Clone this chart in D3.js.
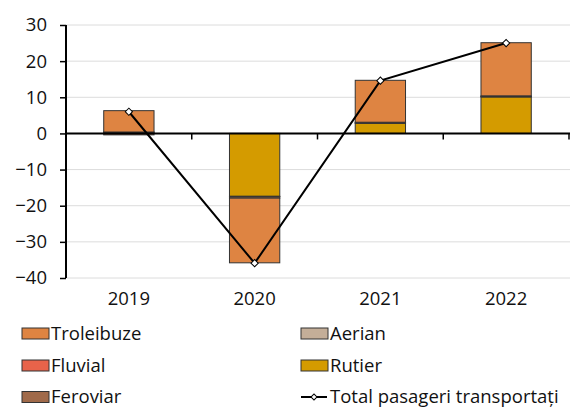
<!DOCTYPE html>
<html>
<head>
<meta charset="utf-8">
<script src="https://cdn.jsdelivr.net/npm/d3@7"></script>
<style>
    body { margin: 0; background: #fff; }
    svg { display: block; font-family: "Open Sans", sans-serif; }
    .tick text { fill: #111; }
</style>
</head>
<body>
<svg id="chart" width="570" height="413"></svg>
<script>
const categories = ["2019", "2020", "2021", "2022"];
const rutier = [0.3, -17.4, 2.8, 10.1];
const aerian = [0.1, -0.1, 0.1, 0.1];
const feroviar = [-0.4, -0.4, 0.2, 0.2];
const fluvial = [0, 0, 0, 0];
const troleibuze = [5.9, -17.9, 11.6, 14.7];
const totalPasageri = [6.0, -35.9, 14.6, 25.0];
const yTicks = [-40, -30, -20, -10, 0, 10, 20, 30];

const seriesInfo = [
    { key: "rutier", name: "Rutier", values: rutier, color: "#d49b00" },
    { key: "aerian", name: "Aerian", values: aerian, color: "#c4ae98" },
    { key: "feroviar", name: "Feroviar", values: feroviar, color: "#a06a4a" },
    { key: "fluvial", name: "Fluvial", values: fluvial, color: "#e8634a" },
    { key: "troleibuze", name: "Troleibuze", values: troleibuze, color: "#de8442" }
];
const colorOf = {};
seriesInfo.forEach(s => colorOf[s.key] = s.color);

const rows = categories.map((c, i) => {
    const r = { cat: c };
    seriesInfo.forEach(s => r[s.key] = s.values[i]);
    return r;
});

const svg = d3.select("#chart");
const fontSize = 18.5;

const x = d3.scaleBand().domain(categories).range([66, 569]).padding(0);
const y = d3.scaleLinear().domain([-40, 30]).range([278, 25]);
const barW = x.bandwidth() * 0.4;

// grid
svg.append("g").selectAll("line").data(yTicks).join("line")
    .attr("x1", 66).attr("x2", 570)
    .attr("y1", d => y(d)).attr("y2", d => y(d))
    .attr("stroke", "#dcdcdc").attr("stroke-width", 1);

// stacked bars
const stack = d3.stack().keys(seriesInfo.map(s => s.key)).offset(d3.stackOffsetDiverging);
const stacked = stack(rows);

svg.append("g").selectAll("g").data(stacked).join("g")
    .attr("fill", d => colorOf[d.key])
    .selectAll("rect").data(d => d.filter(p => p[1] !== p[0])).join("rect")
    .attr("x", d => x(d.data.cat) + (x.bandwidth() - barW) / 2)
    .attr("width", barW)
    .attr("y", d => y(Math.max(d[0], d[1])))
    .attr("height", d => Math.abs(y(d[0]) - y(d[1])))
    .attr("stroke", "#333").attr("stroke-width", 1);

// y axis
const gY = svg.append("g").attr("transform", "translate(66,0)")
    .call(d3.axisLeft(y).tickValues(yTicks).tickSize(6).tickPadding(13).tickFormat(d3.format("d")));
gY.select(".domain").attr("stroke", "#000").attr("stroke-width", 2).attr("d", `M0,${y(30)}V${y(-40)}`);
gY.selectAll(".tick line").attr("stroke", "#000").attr("stroke-width", 1.5);
gY.selectAll(".tick text").attr("font-size", fontSize).attr("font-family", "Open Sans");

// zero axis with boundary ticks
const gX = svg.append("g").attr("transform", `translate(0,${y(0)})`);
gX.append("line").attr("x1", 66).attr("x2", 570).attr("stroke", "#000").attr("stroke-width", 2);
gX.selectAll(".bt").data(categories).join("line").attr("class", "bt")
    .attr("x1", d => x(d) + x.bandwidth()).attr("x2", d => x(d) + x.bandwidth())
    .attr("y1", 0).attr("y2", 6).attr("stroke", "#000").attr("stroke-width", 1.5);

// category labels
const gL = svg.append("g").attr("transform", `translate(0,${y(-40)})`)
    .call(d3.axisBottom(x).tickSize(0).tickPadding(14));
gL.select(".domain").remove();
gL.selectAll(".tick text").attr("font-size", fontSize).attr("font-family", "Open Sans");

// total line
const line = d3.line().x((d, i) => x(categories[i]) + x.bandwidth() / 2).y(d => y(d));
svg.append("path").datum(totalPasageri).attr("d", line)
    .attr("fill", "none").attr("stroke", "#000").attr("stroke-width", 2);

const marker = d3.symbol().type(d3.symbolSquare).size(26);
svg.append("g").selectAll("path").data(totalPasageri).join("path")
    .attr("d", marker)
    .attr("transform", (d, i) => `translate(${x(categories[i]) + x.bandwidth() / 2},${y(d)}) rotate(45)`)
    .attr("fill", "#fff").attr("stroke", "#000").attr("stroke-width", 1);

// legend
const legendItems = [
    { name: "Troleibuze", key: "troleibuze", col: 0, row: 0 },
    { name: "Aerian", key: "aerian", col: 1, row: 0 },
    { name: "Fluvial", key: "fluvial", col: 0, row: 1 },
    { name: "Rutier", key: "rutier", col: 1, row: 1 },
    { name: "Feroviar", key: "feroviar", col: 0, row: 2 },
    { name: "Total pasageri transportați", key: "total", col: 1, row: 2 }
];
const colX = [22, 301];
const rowY = [333.5, 365.5, 397];

const lg = svg.append("g").selectAll("g").data(legendItems).join("g")
    .attr("transform", d => `translate(${colX[d.col]},${rowY[d.row]})`);

lg.filter(d => d.key !== "total").append("rect")
    .attr("x", 0).attr("y", -5.5).attr("width", 27).attr("height", 11)
    .attr("fill", d => colorOf[d.key]).attr("stroke", "#333").attr("stroke-width", 1);

const lt = lg.filter(d => d.key === "total");
lt.append("line").attr("x1", 0).attr("x2", 26).attr("stroke", "#000").attr("stroke-width", 2);
lt.append("path").attr("d", d3.symbol().type(d3.symbolSquare).size(18))
    .attr("transform", "translate(13,0) rotate(45)")
    .attr("fill", "#fff").attr("stroke", "#000").attr("stroke-width", 1);

lg.append("text").attr("x", 29).attr("dy", "0.35em")
    .attr("font-size", fontSize).attr("fill", "#111")
    .text(d => d.name);
</script>
</body>
</html>
